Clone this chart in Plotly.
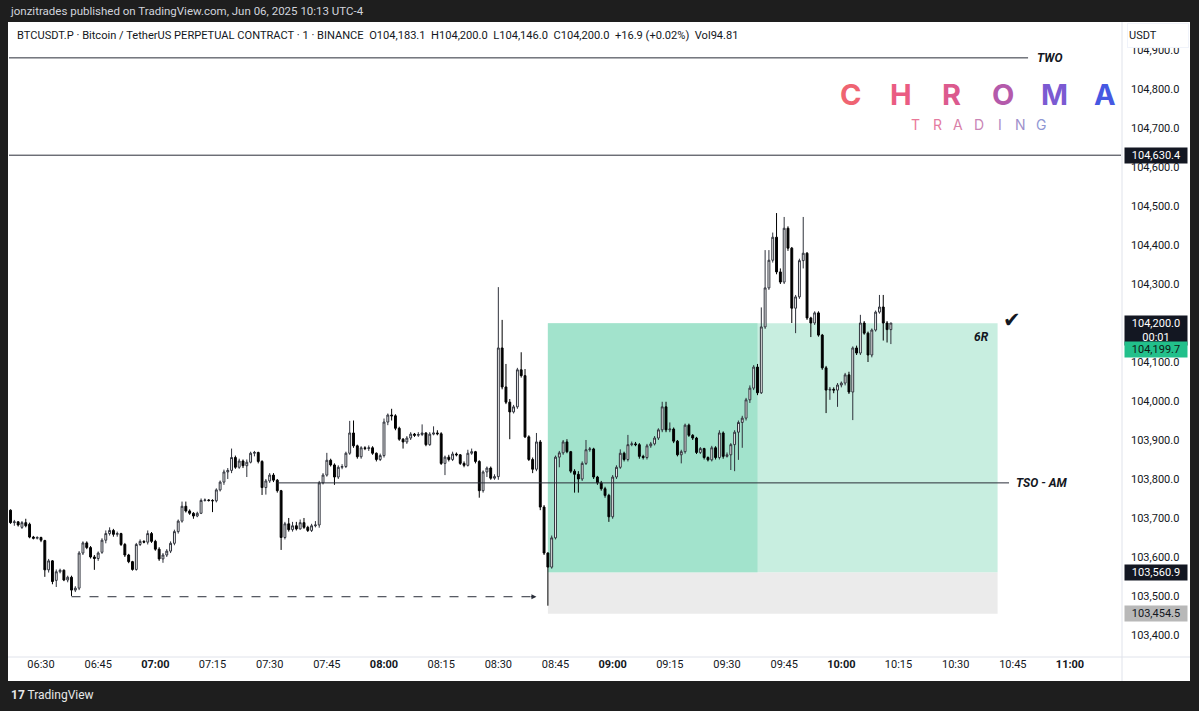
import plotly.graph_objects as go
import pandas as pd

# ---------------- data ----------------
start_time = "2025-06-06 06:22"

opens = [103720,103688,103690,103676,103688,103684,103651,103648,103650,103642,
         103567,103590,103540,103562,103566,103541,103548,103515,103520,103610,
         103636,103624,103600,103596,103612,103643,103660,103668,103658,103660,
         103632,103605,103588,103568,103632,103640,103638,103660,103640,103620,
         103595,103605,103615,103635,103665,103692,103730,103718,103712,103705,
         103712,103745,103746,103745,103744,103772,103792,103818,103822,103855,
         103830,103846,103834,103843,103866,103868,103845,103778,103795,103810,
         103797,103770,103650,103685,103670,103680,103672,103688,103676,103668,
         103680,103682,103790,103810,103848,103836,103805,103830,103832,103866,
         103918,103885,103857,103880,103878,103880,103866,103850,103860,103946,
         103964,103962,103930,103902,103895,103905,103915,103912,103914,103918,
         103888,103915,103918,103916,103840,103856,103850,103864,103862,103840,
         103835,103866,103870,103845,103770,103818,103828,103802,103806,104136,
         104036,103997,103972,103985,104080,104065,103908,103850,103825,103895,
         103728,103610,103574,103649,103856,103867,103895,103870,103820,103812,
         103800,103840,103875,103877,103805,103790,103775,103758,103703,103805,
         103830,103866,103850,103888,103890,103888,103858,103855,103885,103890,
         103905,103926,103985,103926,103928,103897,103862,103870,103938,103912,
         103905,103868,103878,103855,103849,103880,103855,103918,103858,103862,
         103888,103920,103945,103956,104003,104033,104087,104021,104190,104290,
         104361,104420,104331,104305,104443,104392,104238,104267,104360,104379,
         104213,104200,104226,104169,104085,104028,104030,104028,104041,104046,
         104067,104023,104136,104123,104200,104174,104118,104182,104228,104241,
         104200,104183.1]

highs = [103722,103695,103692,103692,103698,103688,103654,103653,103652,103644,
         103595,103592,103568,103570,103568,103552,103552,103525,103615,103640,
         103640,103628,103605,103614,103648,103668,103676,103672,103665,103662,
         103636,103608,103590,103636,103645,103643,103668,103664,103644,103625,
         103610,103620,103640,103670,103696,103742,103742,103722,103715,103716,
         103750,103750,103748,103748,103776,103796,103824,103828,103878,103860,
         103852,103850,103850,103870,103872,103870,103848,103800,103815,103815,
         103800,103772,103690,103700,103690,103690,103696,103700,103680,103685,
         103692,103795,103815,103867,103852,103840,103835,103838,103870,103949,
         103950,103888,103884,103884,103886,103884,103868,103865,103955,103968,
         103980,103966,103934,103905,103910,103920,103918,103920,103940,103920,
         103920,103935,103925,103920,103860,103862,103870,103868,103864,103845,
         103875,103878,103872,103848,103822,103832,103832,103812,104292,104208,
         104095,104005,103990,104085,104125,104082,103912,103855,103918,103900,
         103733,103612,103655,103860,103872,103900,103902,103872,103825,103820,
         103845,103900,103882,103880,103808,103795,103780,103762,103810,103835,
         103876,103870,103913,103896,103895,103892,103862,103890,103895,103910,
         103930,103998,103998,103945,103932,103900,103875,103942,103942,103915,
         103908,103882,103880,103858,103885,103884,103925,103922,103868,103892,
         103925,103950,103962,104008,104040,104092,104095,104240,104387,104387,
         104432,104482,104340,104472,104448,104395,104272,104365,104472,104382,
         104216,104230,104230,104172,104090,104036,104035,104046,104050,104072,
         104075,104140,104142,104221,104205,104178,104186,104232,104272,104272,
         104205,104200]

lows = [103685,103680,103678,103672,103676,103648,103645,103645,103638,103549,
        103560,103530,103523,103558,103538,103535,103500,103510,103515,103605,
        103620,103596,103567,103590,103608,103635,103655,103652,103652,103628,
        103600,103584,103565,103565,103628,103635,103632,103636,103616,103590,
        103585,103600,103610,103630,103660,103688,103714,103708,103698,103702,
        103710,103742,103742,103715,103740,103768,103785,103800,103815,103826,
        103826,103828,103805,103840,103858,103840,103759,103760,103790,103792,
        103765,103618,103645,103665,103665,103668,103670,103672,103664,103664,
        103676,103675,103786,103806,103832,103785,103800,103825,103828,103862,
        103880,103852,103852,103874,103872,103862,103845,103846,103855,103938,
        103950,103925,103898,103878,103890,103900,103908,103908,103910,103884,
        103885,103912,103912,103836,103810,103845,103846,103858,103836,103830,
        103832,103862,103840,103752,103765,103805,103798,103798,103798,104030,
        103992,103902,103968,103980,104060,103905,103846,103815,103820,103720,
        103605,103475,103570,103645,103830,103862,103866,103815,103765,103765,
        103795,103836,103870,103800,103785,103770,103752,103690,103698,103800,
        103826,103845,103845,103884,103884,103852,103850,103850,103880,103886,
        103900,103920,103920,103920,103892,103858,103840,103865,103908,103900,
        103864,103864,103850,103845,103845,103850,103850,103852,103855,103823,
        103820,103849,103880,103950,103995,104028,104015,104018,104185,104285,
        104355,104325,104300,104300,104385,104200,104174,104262,104340,104208,
        104164,104195,104165,104080,103969,104003,104020,103985,104035,104040,
        104018,103951,104118,104118,104170,104100,104112,104178,104224,104155,
        104150,104146]

closes = [103688,103690,103682,103688,103680,103651,103648,103650,103643,103567,
          103590,103537,103562,103566,103541,103548,103515,103520,103610,103636,
          103624,103600,103596,103610,103643,103660,103668,103658,103660,103632,
          103605,103588,103568,103632,103640,103638,103660,103640,103620,103595,
          103605,103615,103635,103665,103692,103730,103718,103712,103705,103712,
          103745,103746,103745,103744,103772,103792,103818,103822,103855,103830,
          103846,103834,103843,103866,103868,103845,103778,103795,103810,103797,
          103770,103650,103685,103670,103680,103672,103688,103676,103668,103680,
          103682,103790,103810,103848,103836,103805,103830,103832,103866,103918,
          103885,103857,103880,103878,103880,103866,103850,103860,103946,103964,
          103962,103930,103902,103895,103905,103915,103912,103914,103918,103888,
          103915,103918,103916,103840,103856,103850,103864,103862,103840,103835,
          103866,103870,103845,103770,103818,103828,103802,103806,104136,104036,
          103997,103972,103985,104080,104065,103908,103850,103825,103895,103728,
          103610,103574,103649,103856,103867,103895,103870,103820,103812,103800,
          103840,103875,103877,103805,103790,103775,103758,103703,103805,103830,
          103866,103850,103888,103890,103888,103858,103855,103885,103890,103905,
          103926,103985,103926,103928,103897,103862,103870,103938,103912,103905,
          103868,103878,103855,103849,103880,103855,103918,103858,103862,103888,
          103920,103945,103956,104003,104033,104087,104021,104190,104290,104361,
          104420,104331,104305,104443,104392,104238,104267,104360,104379,104213,
          104200,104226,104169,104085,104028,104030,104028,104041,104046,104067,
          104023,104136,104123,104200,104174,104118,104182,104228,104241,104200,
          104183.1,104200]

# levels / annotations
two_level = 104880
prior_level = 104630.4
tso_level = 103790
swing_low_level = 103498
entry_price = 103560.9
stop_price = 103454.5
target_price = 104199.7
last_price = 104200.0

day = "2025-06-06 "
two_end = day + "10:49"
tso_start, tso_end = day + "07:32", day + "10:44"
dash_start, dash_end = day + "06:38", day + "08:40"
pos_start, pos_hit, pos_end = day + "08:43", day + "09:38", day + "10:41"

x_range = [day + "06:21:36", day + "11:13:23"]
y_range = [103346, 104972]

y_ticks = list(range(103400, 105000, 100))
x_ticks = pd.date_range(day + "06:30", day + "11:00", freq="15min")
x_ticktext = [("<b>%s</b>" % t.strftime("%H:%M")) if t.minute == 0 else t.strftime("%H:%M")
              for t in x_ticks]

times = pd.date_range(start_time, periods=len(closes), freq="min")

# ---------------- layout geometry ----------------
W, H = 1199, 711
ML, MR, MT, MB = 9, 78, 22, 55
PW, PH = W - ML - MR, H - MT - MB


def px(x):
    return (x - ML) / PW


def py(y):
    return (H - MB - y) / PH


DARK = "#1e1e1e"
INK = "#131722"
FONT = "Roboto, Liberation Sans, Arial, sans-serif"

fig = go.Figure()
fig.add_trace(go.Candlestick(
    x=times, open=opens, high=highs, low=lows, close=closes,
    increasing=dict(line=dict(color="#2f323b", width=1), fillcolor="#ffffff"),
    decreasing=dict(line=dict(color="#000000", width=1), fillcolor="#000000"),
    whiskerwidth=0, hoverinfo="skip", showlegend=False,
))

shapes = []
# position boxes
shapes.append(dict(type="rect", xref="x", yref="y", x0=pos_start, x1=pos_end,
                   y0=stop_price, y1=entry_price, fillcolor="#ebebeb", line=dict(width=0), layer="below"))
shapes.append(dict(type="rect", xref="x", yref="y", x0=pos_start, x1=pos_end,
                   y0=entry_price, y1=target_price, fillcolor="#c8eee0", line=dict(width=0), layer="below"))
shapes.append(dict(type="rect", xref="x", yref="y", x0=pos_start, x1=pos_hit,
                   y0=entry_price, y1=target_price, fillcolor="#a2e3cc", line=dict(width=0), layer="below"))
# horizontal levels
shapes.append(dict(type="line", xref="paper", yref="y", x0=0, x1=1, y0=prior_level, y1=prior_level,
                   line=dict(color="#2a2e39", width=1)))
shapes.append(dict(type="line", xref="x", yref="y", x0=x_range[0], x1=two_end, y0=two_level, y1=two_level,
                   line=dict(color="#2a2e39", width=1)))
shapes.append(dict(type="line", xref="x", yref="y", x0=tso_start, x1=tso_end, y0=tso_level, y1=tso_level,
                   line=dict(color="#2a2e39", width=1)))
shapes.append(dict(type="line", xref="x", yref="y", x0=dash_start, x1=dash_end, y0=swing_low_level,
                   y1=swing_low_level, line=dict(color="#2a2e39", width=1, dash="dash")))
# panel separators
shapes.append(dict(type="line", xref="paper", yref="paper", x0=px(1122), x1=px(1122), y0=py(22), y1=py(681),
                   line=dict(color="#e0e3eb", width=1)))
shapes.append(dict(type="line", xref="paper", yref="paper", x0=px(8), x1=px(1190), y0=py(657), y1=py(657),
                   line=dict(color="#e0e3eb", width=1)))
# dark frame
for (x0, x1, y0, y1) in [(0, W, 0, 22), (0, W, 681, H), (0, 8, 0, H), (1190, W, 0, H)]:
    shapes.append(dict(type="rect", xref="paper", yref="paper", x0=px(x0), x1=px(x1), y0=py(y0), y1=py(y1),
                       fillcolor=DARK, line=dict(width=0), layer="above"))

ann = []


def text(x, y, s, size=11, color=INK, xanchor="left", yanchor="middle", family=FONT, **kw):
    ann.append(dict(x=px(x), y=py(y), xref="paper", yref="paper", text=s, showarrow=False,
                    xanchor=xanchor, yanchor=yanchor, font=dict(size=size, color=color, family=family), **kw))


text(8, 11, "jonzitrades published on TradingView.com, Jun 06, 2025 10:13 UTC-4", size=11.5, color="#d1d4dc")
text(15, 36, "BTCUSDT.P · Bitcoin / TetherUS PERPETUAL CONTRACT · 1 · BINANCE&nbsp;&nbsp;O104,183.1&nbsp;&nbsp;"
             "H104,200.0&nbsp;&nbsp;L104,146.0&nbsp;&nbsp;C104,200.0&nbsp;&nbsp;+16.9 (+0.02%)&nbsp;&nbsp;Vol94.81",
     size=11.1)
text(9, 695, "<b>17</b> TradingView", size=12, color="#e8e8e8")

# CHROMA logo
chroma = ["C", "H", "R", "O", "M", "A"]
chroma_x = [850, 901, 952, 1003, 1054, 1105]
chroma_col = ["#ef6472", "#ea5c82", "#dc5a8e", "#b45aab", "#7b5ad2", "#4658e2"]
for ch, xx, cc in zip(chroma, chroma_x, chroma_col):
    text(xx, 95, "<b>%s</b>" % ch, size=29, color=cc, xanchor="center", family="Inter, Open Sans, sans-serif")
trading = ["T", "R", "A", "D", "I", "N", "G"]
trading_x = [915, 937, 958, 979, 1000, 1020, 1041]
trading_col = ["#ea7898", "#e37ba0", "#d97fa8", "#c985b6", "#b08bc4", "#9f90cc", "#9097d4"]
for ch, xx, cc in zip(trading, trading_x, trading_col):
    text(xx, 124, ch, size=14, color=cc, xanchor="center", family="Inter, Open Sans, sans-serif")

# drawing labels
ann.append(dict(x=two_end, y=two_level, xref="x", yref="y", text="<b><i>TWO</i></b>", showarrow=False,
                xanchor="left", xshift=7, font=dict(size=12, color=INK, family=FONT)))
ann.append(dict(x=tso_end, y=tso_level, xref="x", yref="y", text="<b><i>TSO - AM</i></b>", showarrow=False,
                xanchor="left", xshift=5, font=dict(size=12, color=INK, family=FONT)))
ann.append(dict(x=dash_end, y=swing_low_level, xref="x", yref="y", text="", showarrow=True,
                ax=-7, ay=0, arrowhead=2, arrowsize=1, arrowwidth=1, arrowcolor="#2a2e39", standoff=0))
text(981, 337, "<b><i>6R</i></b>", size=12, xanchor="center")
text(1012, 320, "✔", size=21, xanchor="center", family="DejaVu Sans")


# price-axis labels
def plabel(yv, s, bg, fg="#ffffff", yref="y", yanchor="middle", h=None):
    d = dict(x=px(1124), y=yv, xref="paper", yref=yref, text=s, showarrow=False, xanchor="left",
             yanchor=yanchor, bgcolor=bg, font=dict(size=11, color=fg, family=FONT),
             width=60, align="center", borderpad=1)
    if h:
        d["height"] = h
    ann.append(d)


plabel(prior_level, "104,630.4", "#131722")
plabel(py(315), "104,200.0<br>00:01", "#131722", yref="paper", yanchor="top", h=27)
plabel(py(349), "104,199.7", "#22c08b", fg="#0f1a14", yref="paper")
plabel(entry_price, "103,560.9", "#131722")
plabel(stop_price, "103,454.5", "#b8b8b8", fg="#131722")
ann.append(dict(x=px(1127), y=py(36), xref="paper", yref="paper", text="USDT", showarrow=False,
                xanchor="left", yanchor="middle", bgcolor="#ffffff", width=58, height=21, align="left",
                bordercolor="#f0f3fa", borderwidth=1,
                font=dict(size=11, color=INK, family=FONT)))

fig.update_layout(
    width=W, height=H,
    margin=dict(l=ML, r=MR, t=MT, b=MB),
    paper_bgcolor="#ffffff", plot_bgcolor="#ffffff",
    shapes=shapes, annotations=ann, showlegend=False,
    xaxis=dict(type="date", range=x_range, rangeslider=dict(visible=False), showgrid=False, zeroline=False,
               tickvals=list(x_ticks), ticktext=x_ticktext, ticks="", tickfont=dict(size=11, color=INK, family=FONT),
               showline=False, fixedrange=True),
    yaxis=dict(side="right", range=y_range, showgrid=False, zeroline=False, tickvals=y_ticks,
               tickformat=",.1f", ticks="", ticklabelstandoff=9, tickfont=dict(size=11, color=INK, family=FONT),
               showline=False, fixedrange=True),
)

fig.write_html("out.html", config={"displayModeBar": False},
               post_script="document.body.style.margin='0px';document.body.style.background='#1e1e1e';"
                           "document.body.style.overflow='hidden';")
